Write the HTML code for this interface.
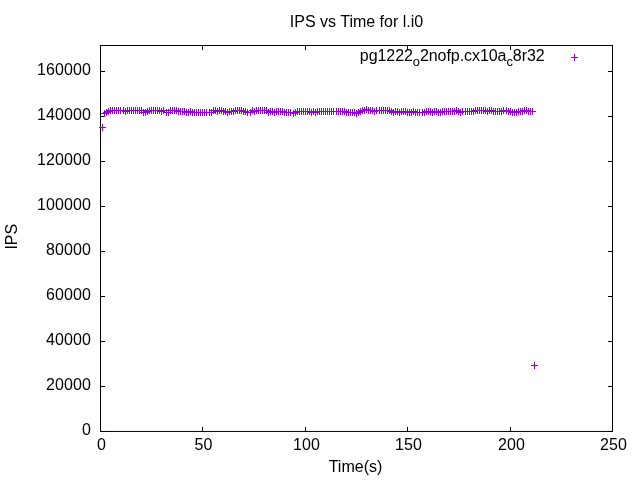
<!DOCTYPE html>
<html><head><meta charset="utf-8"><title>IPS vs Time for l.i0</title>
<style>
html,body{margin:0;padding:0;background:#fff;}
svg{display:block}
text{font-family:"Liberation Sans",Arial,sans-serif;font-size:16px;fill:#000}
</style></head><body>
<svg width="640" height="480" viewBox="0 0 640 480">
<rect width="640" height="480" fill="#fff"/>
<text x="356.5" y="27" text-anchor="middle">IPS vs Time for l.i0</text>
<text transform="translate(17,236.7) rotate(-90)" text-anchor="middle">IPS</text>
<text x="355.5" y="472" text-anchor="middle">Time(s)</text>
<g id="ylabels" letter-spacing="0.1"><text x="91" y="435.25" text-anchor="end">0</text><text x="91" y="390.25" text-anchor="end">20000</text><text x="91" y="345.25" text-anchor="end">40000</text><text x="91" y="300.25" text-anchor="end">60000</text><text x="91" y="255.25" text-anchor="end">80000</text><text x="91" y="210.25" text-anchor="end">100000</text><text x="91" y="165.25" text-anchor="end">120000</text><text x="91" y="120.25" text-anchor="end">140000</text><text x="91" y="75.25" text-anchor="end">160000</text></g>
<g id="xlabels" letter-spacing="0.1"><text x="101.6" y="450" text-anchor="middle">0</text><text x="203.6" y="450" text-anchor="middle">50</text><text x="306.6" y="450" text-anchor="middle">100</text><text x="408.6" y="450" text-anchor="middle">150</text><text x="511.6" y="450" text-anchor="middle">200</text><text x="613.6" y="450" text-anchor="middle">250</text></g>
<text x="544.6" y="61" text-anchor="end" letter-spacing="-0.06">pg1222<tspan dy="5" font-size="12.8px">o</tspan><tspan dy="-5">2nofp.cx10a</tspan><tspan dy="5" font-size="12.8px">c</tspan><tspan dy="-5">8r32</tspan></text>
<path d="M100.5 431.45v-4.5M100.5 45.5v4.5M202.5 431.45v-4.5M202.5 45.5v4.5M305.5 431.45v-4.5M305.5 45.5v4.5M407.5 431.45v-4.5M407.5 45.5v4.5M510.5 431.45v-4.5M510.5 45.5v4.5M612.5 431.45v-4.5M612.5 45.5v4.5M100.5 431.5h4.5M612.5 431.5h-4.5M100.5 386.5h4.5M612.5 386.5h-4.5M100.5 341.5h4.5M612.5 341.5h-4.5M100.5 296.5h4.5M612.5 296.5h-4.5M100.5 251.5h4.5M612.5 251.5h-4.5M100.5 206.5h4.5M612.5 206.5h-4.5M100.5 161.5h4.5M612.5 161.5h-4.5M100.5 116.5h4.5M612.5 116.5h-4.5M100.5 71.5h4.5M612.5 71.5h-4.5" stroke="#000" stroke-width="1" fill="none"/>
<path d="M100.5 45.5H612.5V431.45H100.5Z" stroke="#000" stroke-width="1" fill="none"/>
<path d="M571 57.5h7M574.5 54v7" stroke="#9400d3" stroke-width="1" fill="none"/>
<path d="M99 127.5h7M102.5 124v7M101 113.5h7M104.5 110v7M103 112.5h7M106.5 109v7M105 111.5h7M108.5 108v7M107 110.5h7M110.5 107v7M109 110.5h7M112.5 107v7M111 110.5h7M114.5 107v7M113 110.5h7M116.5 107v7M115 110.5h7M118.5 107v7M117 110.5h7M120.5 107v7M120 110.5h7M123.5 107v7M122 111.5h7M125.5 108v7M124 110.5h7M127.5 107v7M126 110.5h7M129.5 107v7M128 110.5h7M131.5 107v7M130 110.5h7M133.5 107v7M132 110.5h7M135.5 107v7M134 110.5h7M137.5 107v7M136 110.5h7M139.5 107v7M138 110.5h7M141.5 107v7M140 112.5h7M143.5 109v7M142 112.5h7M145.5 109v7M144 111.5h7M147.5 108v7M146 110.5h7M149.5 107v7M148 110.5h7M151.5 107v7M150 110.5h7M153.5 107v7M152 110.5h7M155.5 107v7M154 110.5h7M157.5 107v7M156 110.5h7M159.5 107v7M158 111.5h7M161.5 108v7M160 110.5h7M163.5 107v7M163 112.5h7M166.5 109v7M165 112.5h7M168.5 109v7M167 110.5h7M170.5 107v7M169 110.5h7M172.5 107v7M171 110.5h7M174.5 107v7M173 110.5h7M176.5 107v7M175 111.5h7M178.5 108v7M177 111.5h7M180.5 108v7M179 111.5h7M182.5 108v7M181 111.5h7M184.5 108v7M183 112.5h7M186.5 109v7M185 112.5h7M188.5 109v7M187 111.5h7M190.5 108v7M189 112.5h7M192.5 109v7M191 112.5h7M194.5 109v7M193 112.5h7M196.5 109v7M195 112.5h7M198.5 109v7M197 112.5h7M200.5 109v7M199 112.5h7M202.5 109v7M201 112.5h7M204.5 109v7M203 112.5h7M206.5 109v7M206 112.5h7M209.5 109v7M208 112.5h7M211.5 109v7M210 110.5h7M213.5 107v7M212 110.5h7M215.5 107v7M214 111.5h7M217.5 108v7M216 110.5h7M219.5 107v7M218 110.5h7M221.5 107v7M220 111.5h7M223.5 108v7M222 111.5h7M225.5 108v7M224 112.5h7M227.5 109v7M226 111.5h7M229.5 108v7M228 111.5h7M231.5 108v7M230 111.5h7M233.5 108v7M232 110.5h7M235.5 107v7M234 110.5h7M237.5 107v7M236 110.5h7M239.5 107v7M238 110.5h7M241.5 107v7M240 111.5h7M243.5 108v7M242 111.5h7M245.5 108v7M244 112.5h7M247.5 109v7M247 112.5h7M250.5 109v7M249 110.5h7M252.5 107v7M251 111.5h7M254.5 108v7M253 110.5h7M256.5 107v7M255 110.5h7M258.5 107v7M257 110.5h7M260.5 107v7M259 110.5h7M262.5 107v7M261 110.5h7M264.5 107v7M263 110.5h7M266.5 107v7M265 112.5h7M268.5 109v7M267 111.5h7M270.5 108v7M269 111.5h7M272.5 108v7M271 112.5h7M274.5 109v7M273 111.5h7M276.5 108v7M275 111.5h7M278.5 108v7M277 111.5h7M280.5 108v7M279 111.5h7M282.5 108v7M281 112.5h7M284.5 109v7M283 112.5h7M286.5 109v7M285 112.5h7M288.5 109v7M287 112.5h7M290.5 109v7M290 113.5h7M293.5 110v7M292 112.5h7M295.5 109v7M294 111.5h7M297.5 108v7M296 111.5h7M299.5 108v7M298 111.5h7M301.5 108v7M300 111.5h7M303.5 108v7M302 111.5h7M305.5 108v7M304 111.5h7M307.5 108v7M306 111.5h7M309.5 108v7M308 112.5h7M311.5 109v7M310 111.5h7M313.5 108v7M312 112.5h7M315.5 109v7M314 111.5h7M317.5 108v7M316 111.5h7M319.5 108v7M318 111.5h7M321.5 108v7M320 111.5h7M323.5 108v7M322 111.5h7M325.5 108v7M324 111.5h7M327.5 108v7M326 111.5h7M329.5 108v7M328 111.5h7M331.5 108v7M330 111.5h7M333.5 108v7M333 111.5h7M336.5 108v7M335 111.5h7M338.5 108v7M337 111.5h7M340.5 108v7M339 111.5h7M342.5 108v7M341 111.5h7M344.5 108v7M343 112.5h7M346.5 109v7M345 112.5h7M348.5 109v7M347 112.5h7M350.5 109v7M349 112.5h7M352.5 109v7M351 112.5h7M354.5 109v7M353 113.5h7M356.5 110v7M355 112.5h7M358.5 109v7M357 111.5h7M360.5 108v7M359 110.5h7M362.5 107v7M361 110.5h7M364.5 107v7M363 109.5h7M366.5 106v7M365 110.5h7M368.5 107v7M367 110.5h7M370.5 107v7M369 110.5h7M372.5 107v7M371 111.5h7M374.5 108v7M373 110.5h7M376.5 107v7M376 110.5h7M379.5 107v7M378 110.5h7M381.5 107v7M380 110.5h7M383.5 107v7M382 110.5h7M385.5 107v7M384 110.5h7M387.5 107v7M386 110.5h7M389.5 107v7M388 111.5h7M391.5 108v7M390 112.5h7M393.5 109v7M392 111.5h7M395.5 108v7M394 111.5h7M397.5 108v7M396 112.5h7M399.5 109v7M398 111.5h7M401.5 108v7M400 111.5h7M403.5 108v7M402 111.5h7M405.5 108v7M404 112.5h7M407.5 109v7M406 112.5h7M409.5 109v7M408 112.5h7M411.5 109v7M410 111.5h7M413.5 108v7M412 112.5h7M415.5 109v7M414 112.5h7M417.5 109v7M416 112.5h7M419.5 109v7M419 112.5h7M422.5 109v7M421 112.5h7M424.5 109v7M423 111.5h7M426.5 108v7M425 111.5h7M428.5 108v7M427 111.5h7M430.5 108v7M429 112.5h7M432.5 109v7M431 111.5h7M434.5 108v7M433 111.5h7M436.5 108v7M435 112.5h7M438.5 109v7M437 112.5h7M440.5 109v7M439 111.5h7M442.5 108v7M441 111.5h7M444.5 108v7M443 111.5h7M446.5 108v7M445 111.5h7M448.5 108v7M447 111.5h7M450.5 108v7M449 111.5h7M452.5 108v7M451 111.5h7M454.5 108v7M453 110.5h7M456.5 107v7M455 111.5h7M458.5 108v7M457 112.5h7M460.5 109v7M459 111.5h7M462.5 108v7M462 111.5h7M465.5 108v7M464 111.5h7M467.5 108v7M466 111.5h7M469.5 108v7M468 111.5h7M471.5 108v7M470 111.5h7M473.5 108v7M472 110.5h7M475.5 107v7M474 110.5h7M477.5 107v7M476 110.5h7M479.5 107v7M478 110.5h7M481.5 107v7M480 110.5h7M483.5 107v7M482 110.5h7M485.5 107v7M484 111.5h7M487.5 108v7M486 110.5h7M489.5 107v7M488 110.5h7M491.5 107v7M490 111.5h7M493.5 108v7M492 111.5h7M495.5 108v7M494 111.5h7M497.5 108v7M496 111.5h7M499.5 108v7M498 111.5h7M501.5 108v7M500 110.5h7M503.5 107v7M503 110.5h7M506.5 107v7M505 111.5h7M508.5 108v7M507 111.5h7M510.5 108v7M509 112.5h7M512.5 109v7M511 112.5h7M514.5 109v7M513 112.5h7M516.5 109v7M515 111.5h7M518.5 108v7M517 111.5h7M520.5 108v7M519 111.5h7M522.5 108v7M521 110.5h7M524.5 107v7M523 110.5h7M526.5 107v7M525 111.5h7M528.5 108v7M527 111.5h7M530.5 108v7M529 111.5h7M532.5 108v7M531 365.5h7M534.5 362v7" stroke="#9400d3" stroke-width="1" fill="none"/>
</svg>
</body></html>
